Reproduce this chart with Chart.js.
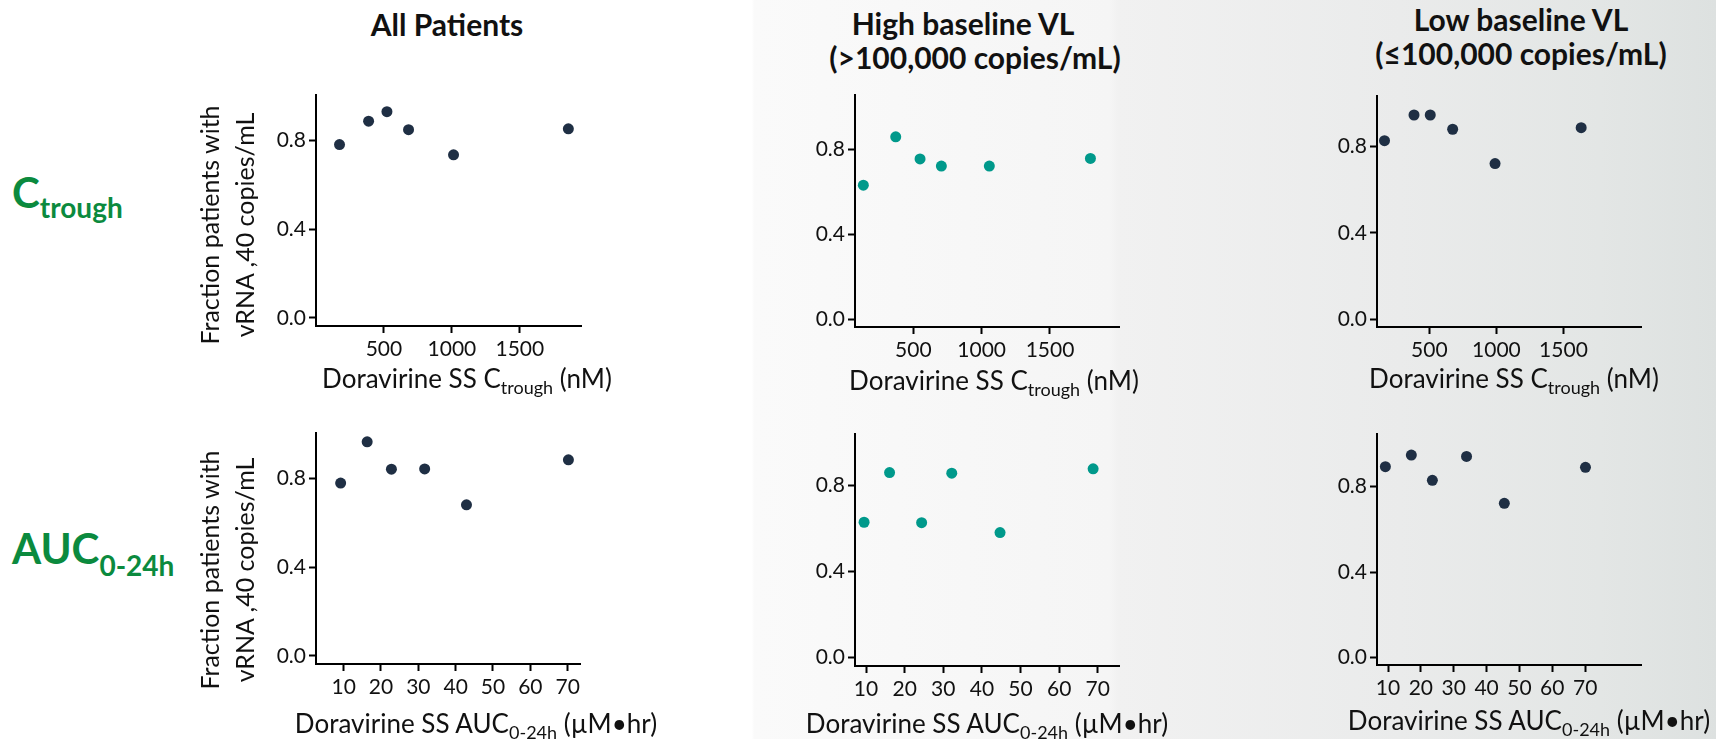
<!DOCTYPE html>
<html>
<head>
<meta charset="utf-8">
<script src="https://cdn.jsdelivr.net/npm/chart.js@4/dist/chart.umd.min.js"></script>
<style>
  html, body { margin: 0; padding: 0; }
  body {
    width: 1716px; height: 739px; position: relative; overflow: hidden;
    font-family: Lato, "Open Sans", sans-serif; color: #111;
    background: linear-gradient(to right, #ffffff 0px, #ffffff 752px, #fafafa 754px, #f5f5f5 1110px,
      #f1f1f1 1118px, #eaebeb 1400px, #e3e6e5 1600px, #dde1e0 1716px);
  }
  canvas { position: absolute; }
  .lbl { position: absolute; white-space: nowrap; line-height: 1.2; transform: translate(-50%, -50%); }
  .sub { line-height: 0; }
</style>
</head>
<body>
<script>
// x values (Doravirine SS Ctrough, nM) and fraction with vRNA <40 copies/mL
const ctroughAllX  = [173, 387, 522, 681, 1012, 1857];
const ctroughAllY  = [0.780, 0.885, 0.928, 0.847, 0.734, 0.851];
const ctroughHighX = [134, 371, 549, 705, 1056, 1796];
const ctroughHighY = [0.632, 0.860, 0.756, 0.722, 0.722, 0.758];
const ctroughLowX  = [166, 386, 507, 674, 990, 1632];
const ctroughLowY  = [0.827, 0.946, 0.946, 0.880, 0.721, 0.887];

// x values (Doravirine SS AUC0-24h, uM*hr)
const aucAllX  = [9.2, 16.3, 22.8, 31.7, 42.9, 70.2];
const aucAllY  = [0.779, 0.965, 0.842, 0.843, 0.681, 0.884];
const aucHighX = [9.5, 16.1, 24.4, 32.2, 44.7, 68.8];
const aucHighY = [0.628, 0.859, 0.626, 0.856, 0.580, 0.876];
const aucLowX  = [9.2, 17.1, 23.5, 33.9, 45.4, 70.1];
const aucLowY  = [0.894, 0.948, 0.830, 0.942, 0.722, 0.891];

// tick labels
const ctroughTicks  = [500, 1000, 1500];
const aucTicks      = [10, 20, 30, 40, 50, 60, 70];
const fractionTicks = [0, 0.4, 0.8];

const navy = '#1f2f44';
const teal = '#00998b';
const green = '#0b8a3e';

// area = [left, top, right, bottom] of the plot box on the page
const panels = [
  { xs: ctroughAllX,  ys: ctroughAllY,  color: navy, xTicks: ctroughTicks, area: [316, 95, 581, 326],  xr: [0, 1950],   yr: [-0.036, 1.003] },
  { xs: ctroughHighX, ys: ctroughHighY, color: teal, xTicks: ctroughTicks, area: [855, 95, 1119, 327], xr: [73, 2005],  yr: [-0.036, 1.057] },
  { xs: ctroughLowX,  ys: ctroughLowY,  color: navy, xTicks: ctroughTicks, area: [1377, 96, 1641, 327], xr: [110, 2078], yr: [-0.036, 1.034] },
  { xs: aucAllX,  ys: aucAllY,  color: navy, xTicks: aucTicks, area: [316, 433, 580, 664],   xr: [2.6, 73.3],  yr: [-0.037, 1.005] },
  { xs: aucHighX, ys: aucHighY, color: teal, xTicks: aucTicks, area: [855, 434, 1119, 666],  xr: [7.15, 75.5], yr: [-0.040, 1.038] },
  { xs: aucLowX,  ys: aucLowY,  color: navy, xTicks: aucTicks, area: [1377, 434, 1641, 665], xr: [6.65, 87],   yr: [-0.036, 1.047] }
];

const yW = 70, xH = 44, padTop = 20, padRight = 24;
const tickFont = { family: 'Lato', size: 21 };

function axisStyle() {
  return {
    border: { display: true, color: '#000', width: 2 },
    grid: { drawOnChartArea: false, drawTicks: true, tickLength: 7, tickColor: '#000', tickWidth: 2 },
    ticks: { color: '#111', font: tickFont, padding: 3 }
  };
}

panels.forEach(p => {
  const [l, t, r, b] = p.area;
  const cv = document.createElement('canvas');
  const w = yW + (r - l) + padRight, h = padTop + (b - t) + xH;
  cv.width = w; cv.height = h;
  cv.style.width = w + 'px'; cv.style.height = h + 'px';
  cv.style.left = (l - yW) + 'px'; cv.style.top = (t - padTop) + 'px';
  document.body.appendChild(cv);

  const x = axisStyle(), y = axisStyle();
  Object.assign(x, {
    type: 'linear', min: p.xr[0], max: p.xr[1],
    afterBuildTicks: s => { s.ticks = p.xTicks.map(v => ({ value: v })); },
    afterFit: s => { s.height = xH; }
  });
  x.ticks.maxRotation = 0;
  x.ticks.padding = 4;
  x.ticks.callback = v => String(v);
  Object.assign(y, {
    type: 'linear', min: p.yr[0], max: p.yr[1],
    afterBuildTicks: s => { s.ticks = fractionTicks.map(v => ({ value: v })); },
    afterFit: s => { s.width = yW; }
  });
  y.ticks.callback = v => Number(v).toFixed(1);

  new Chart(cv, {
    type: 'scatter',
    data: {
      datasets: [{
        data: p.xs.map((v, i) => ({ x: v, y: p.ys[i] })),
        backgroundColor: p.color,
        borderWidth: 0,
        pointRadius: 5.5
      }]
    },
    options: {
      responsive: false,
      animation: false,
      devicePixelRatio: 1,
      layout: { padding: { top: padTop, right: padRight, left: 0, bottom: 0 } },
      plugins: { legend: { display: false }, tooltip: { enabled: false } },
      scales: { x: x, y: y }
    }
  });
});

// text with subscripts is placed as html
function label(html, cx, cy, css) {
  const d = document.createElement('div');
  d.className = 'lbl';
  d.innerHTML = html;
  d.style.left = cx + 'px';
  d.style.top = cy + 'px';
  Object.assign(d.style, css || {});
  document.body.appendChild(d);
}

const head = { fontWeight: 'bold', fontSize: '30px', color: '#111' };
label('All Patients', 447, 24, head);
label('High baseline VL', 963, 23, head);
label('(&gt;100,000 copies/mL)', 975, 57, head);
label('Low baseline VL', 1521, 19, head);
label('(≤100,000 copies/mL)', 1521, 53, head);

const row = { fontWeight: 'bold', fontSize: '42px', color: green, transform: 'translate(0, -50%)' };
label('C<span class="sub" style="font-size:28px;vertical-align:-10px">trough</span>', 12, 192, row);
label('AUC<span class="sub" style="font-size:28px;vertical-align:-12px">0-24h</span>', 12, 548, row);

const yTitle = { fontSize: '25px', lineHeight: '35px', textAlign: 'center', transform: 'translate(-50%, -50%) rotate(-90deg)' };
label('Fraction patients with<br>vRNA ,40 copies/mL', 227, 225, yTitle);
label('Fraction patients with<br>vRNA ,40 copies/mL', 227, 570, yTitle);

const xt = { fontSize: '26px' };
const ctTitle = 'Doravirine SS C<span class="sub" style="font-size:18px;vertical-align:-6px">trough</span> (nM)';
const aucTitle = 'Doravirine SS AUC<span class="sub" style="font-size:18px;vertical-align:-6px">0-24h</span> (µM•hr)';
label(ctTitle, 467, 379, xt);
label(ctTitle, 994, 381, xt);
label(ctTitle, 1514, 379, xt);
label(aucTitle, 476, 724, xt);
label(aucTitle, 987, 724, xt);
label(aucTitle, 1529, 721, xt);
</script>
</body>
</html>
